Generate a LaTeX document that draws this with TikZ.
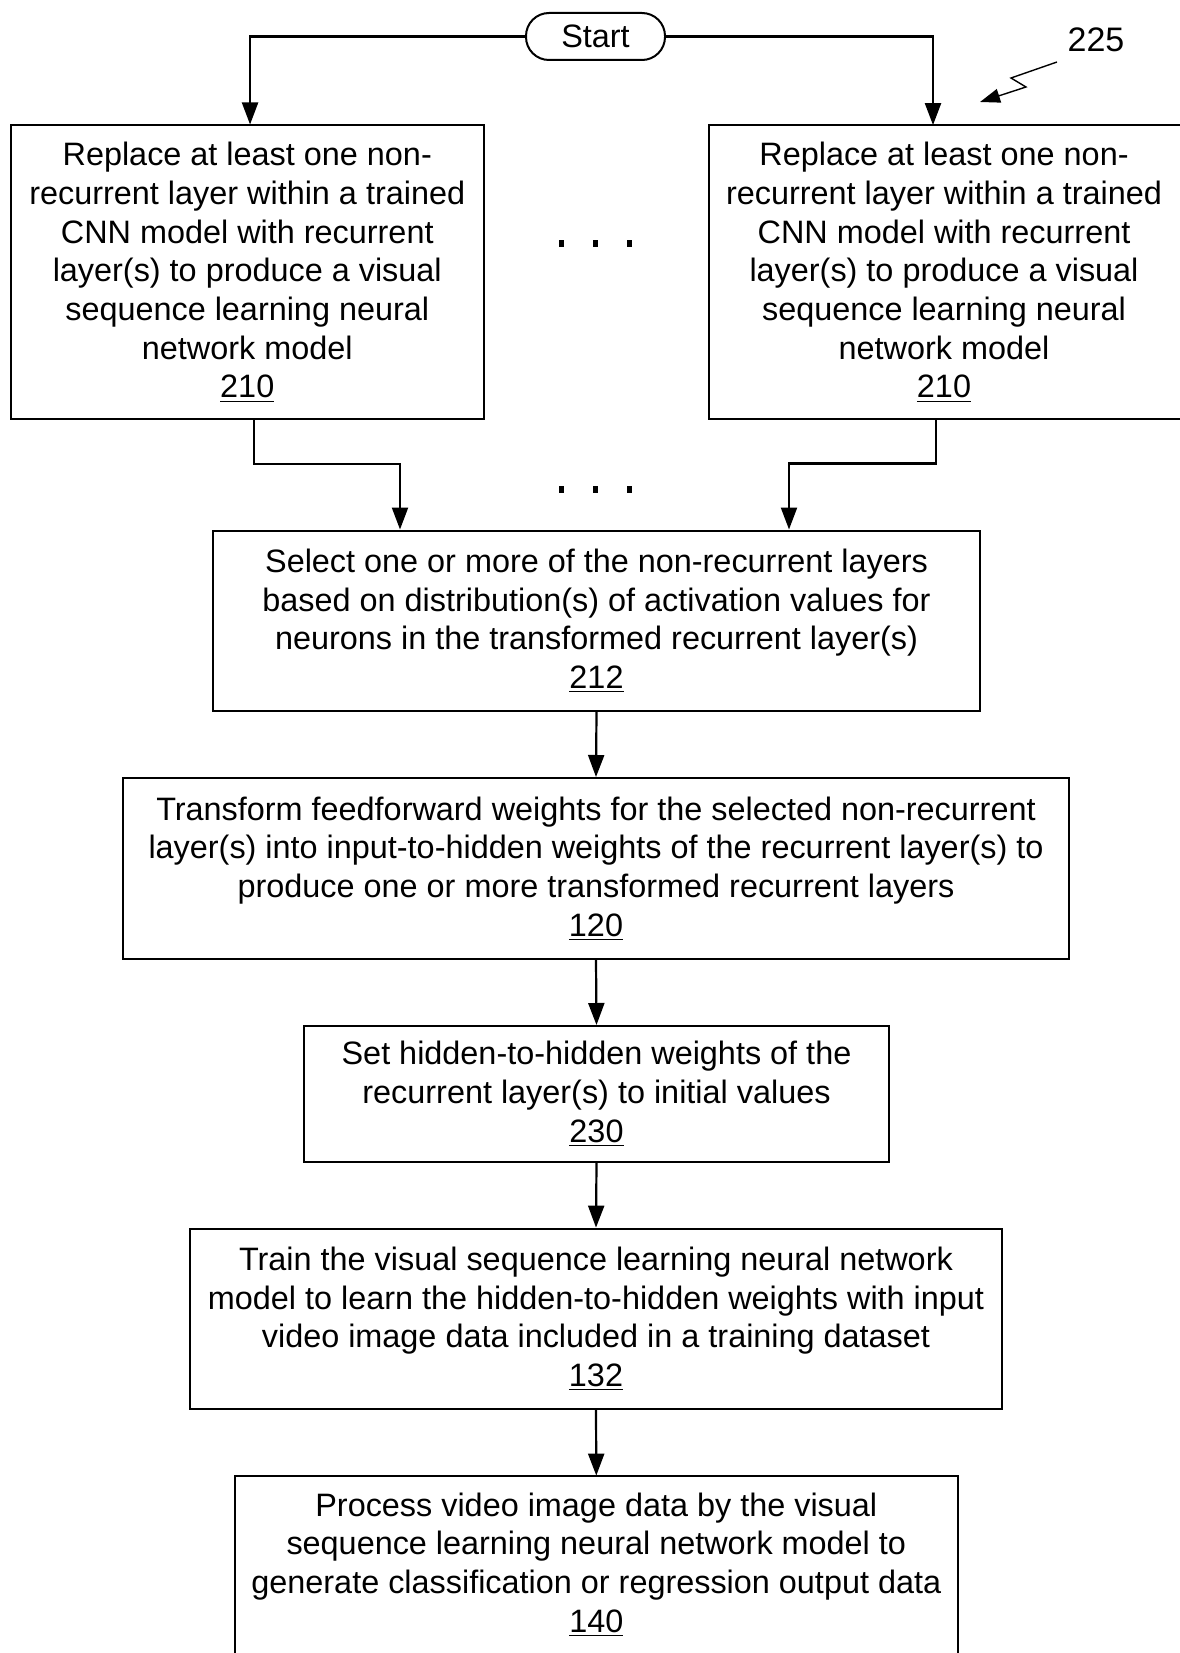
\documentclass[tikz,border=0pt]{standalone}
\usepackage{fontspec}
\setmainfont{Liberation Sans}
\usetikzlibrary{arrows.meta}
\newcommand{\bodyfont}{\fontsize{16.2}{19.35}\selectfont}
\begin{document}
\begin{tikzpicture}[x=0.5pt,y=-0.5pt,
  box/.style={draw, line width=1pt, align=center, inner sep=0pt, font=\bodyfont},
  openbox/.style={align=center, inner sep=0pt, font=\bodyfont},
  arr/.style={-{Triangle[length=11pt,width=8pt]}, line width=1.1pt},
  edge/.style={line width=1pt},
  dotmark/.style={fill=black}]
\useasboundingbox (0,0) rectangle (1179,1653);
\fill[white] (0,0) rectangle (1179,1653);

% Start
\node[box, rounded corners=11.5pt, minimum width=69.5pt, minimum height=23.5pt] (start) at (595.5,36.5) {Start};

% Label 225
\node[font=\fontsize{17}{20}\selectfont, inner sep=0pt] (lbl) at (1096,40) {225};
\coordinate (zz0) at (1057,62);
\coordinate (zz1) at (1011,78);
\coordinate (zz2) at (1026,87);
\coordinate (zz3) at (980,102);
\draw[line width=0.7pt, -{Triangle[length=10pt,width=7pt]}] (zz0) -- (zz1) -- (zz2) -- (zz3);

% Boxes 210
\node[box, minimum width=236.75pt, minimum height=146.75pt] (L210) at (247.25,272.25)
 {Replace at least one non-\\recurrent layer within a trained\\CNN model with recurrent\\layer(s) to produce a visual\\sequence learning neural\\network model\\\underline{210}};
\node[openbox, minimum width=235pt, minimum height=146.75pt] (R210) at (944,272.25)
 {Replace at least one non-\\recurrent layer within a trained\\CNN model with recurrent\\layer(s) to produce a visual\\sequence learning neural\\network model\\\underline{210}};
\draw[edge] ([xshift=6pt]R210.north east) -- (R210.north west) -- (R210.south west) -- ([xshift=6pt]R210.south east);

% Box 212
\node[box, minimum width=383.5pt, minimum height=90.25pt] (n212) at (596.5,620.75)
 {Select one or more of the non-recurrent layers\\based on distribution(s) of activation values for\\neurons in the transformed recurrent layer(s)\\\underline{212}};

% Box 120
\node[box, minimum width=473pt, minimum height=90.5pt] (n120) at (596,868.5)
 {Transform feedforward weights for the selected non-recurrent\\layer(s) into input-to-hidden weights of the recurrent layer(s) to\\produce one or more transformed recurrent layers\\\underline{120}};

% Box 230
\node[box, minimum width=292.5pt, minimum height=68pt] (n230) at (596.5,1094)
 {Set hidden-to-hidden weights of the\\recurrent layer(s) to initial values\\\underline{230}};

% Box 132
\node[box, minimum width=406pt, minimum height=90.2pt] (n132) at (596,1318.8)
 {Train the visual sequence learning neural network\\model to learn the hidden-to-hidden weights with input\\video image data included in a training dataset\\\underline{132}};

% Box 140
\node[openbox, minimum width=361.3pt, minimum height=88.5pt] (n140) at (596.3,1564.5)
 {Process video image data by the visual\\sequence learning neural network model to\\generate classification or regression output data\\\underline{140}};
\draw[edge] ([yshift=-6pt]n140.south west) -- (n140.north west) -- (n140.north east) -- ([yshift=-6pt]n140.south east);

% Connectors
\draw[arr] (start.west) -| ([xshift=1.4pt]L210.north);
\draw[arr] (start.east) -| ([xshift=-5.5pt]R210.north);
\draw[arr] ([xshift=3.4pt]L210.south) -- ++(0,-22pt) -| ([xshift=-98.25pt]n212.north);
\draw[arr] ([xshift=-4pt]R210.south) -- ++(0,-22pt) -| ([xshift=96.25pt]n212.north);
\draw[arr] (n212.south) -- (n120.north);
\draw[arr] (n120.south) -- (n230.north);
\draw[arr] (n230.south) -- (n132.north);
\draw[arr] (n132.south) -- (n140.north);

% Ellipsis dots
\foreach \dx in {561,595,629} {
  \fill[dotmark] (\dx-2.5,240) rectangle (\dx+2.5,247);
  \fill[dotmark] (\dx-2.5,486) rectangle (\dx+2.5,493);
}
\end{tikzpicture}
\end{document}
